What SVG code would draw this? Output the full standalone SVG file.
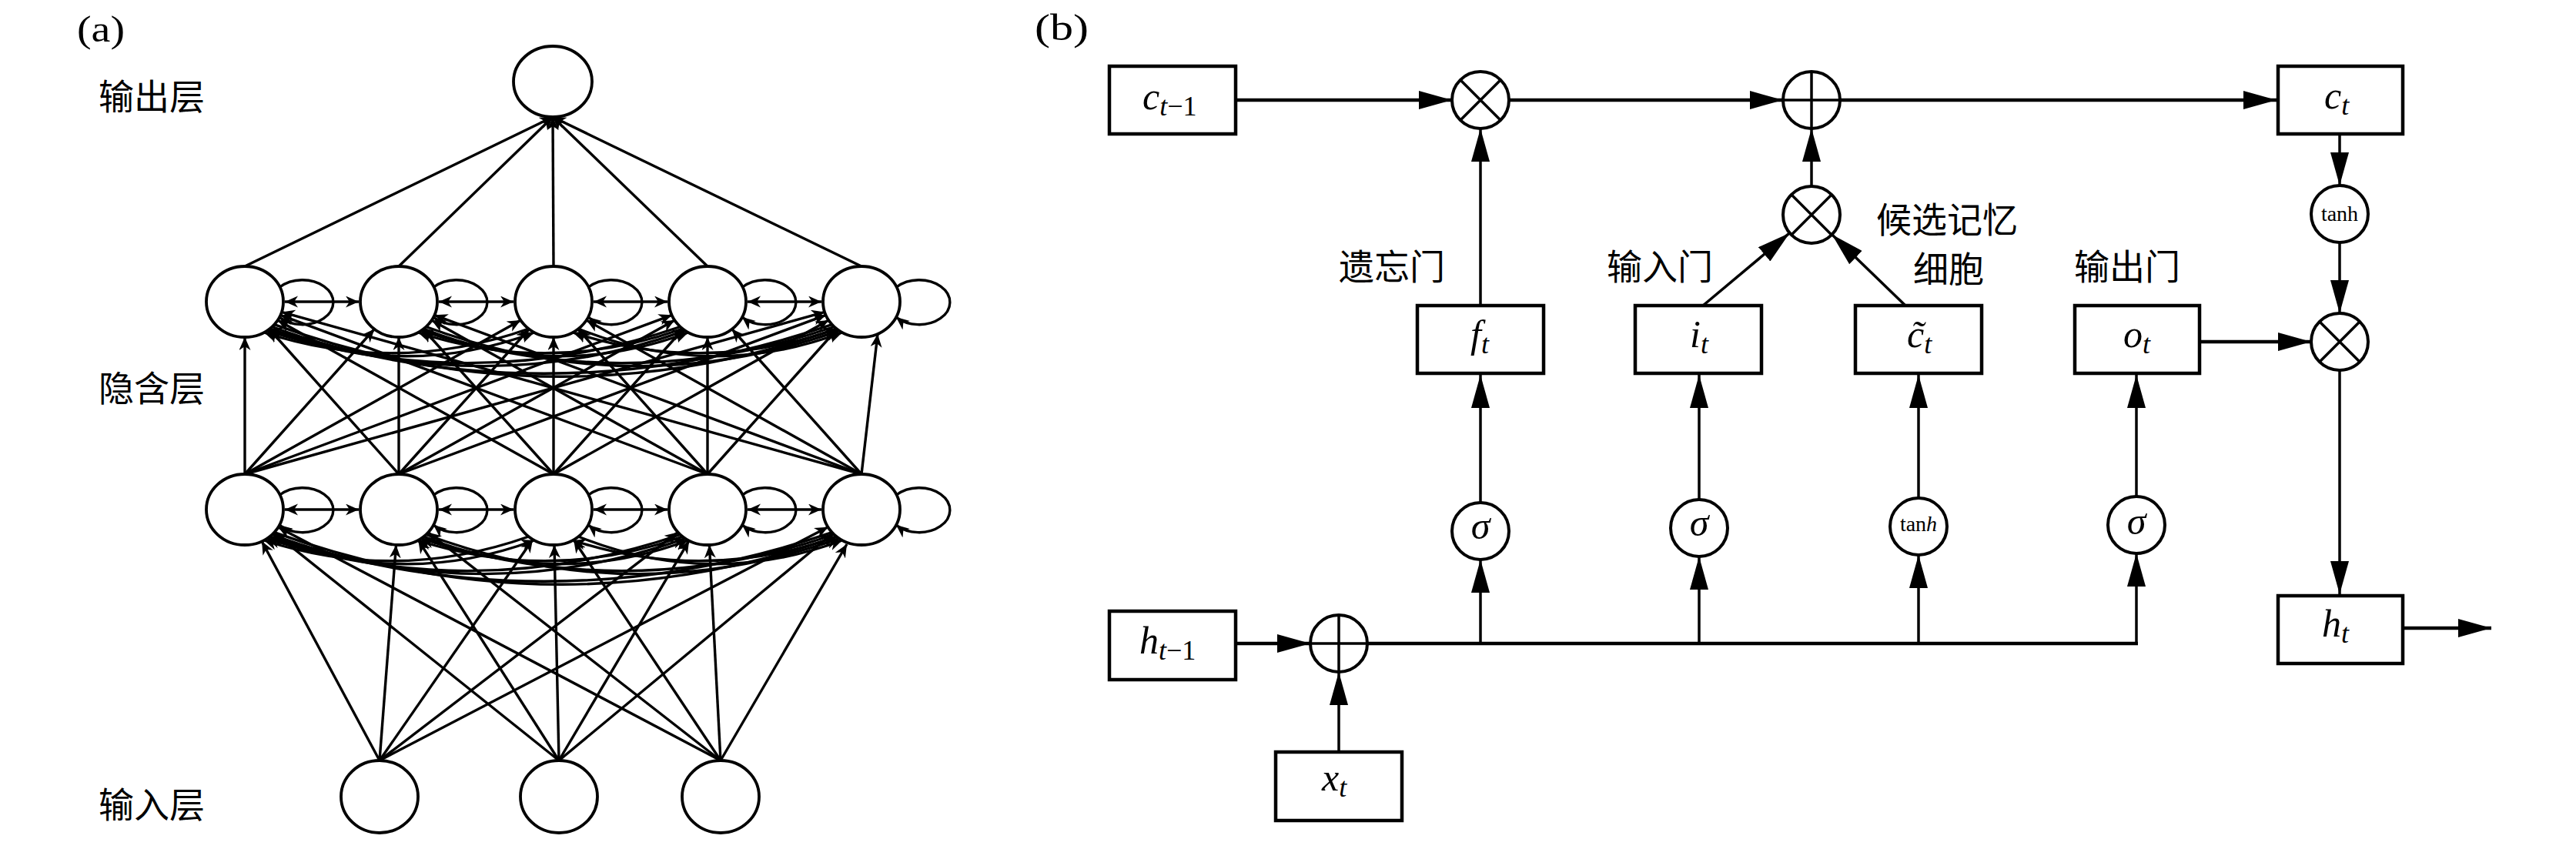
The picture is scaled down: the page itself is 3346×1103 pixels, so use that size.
<svg xmlns="http://www.w3.org/2000/svg" width="3346" height="1103" viewBox="0 0 3346 1103">
<style>
.nd{fill:#fff;stroke:#000;stroke-width:3.8}
.ln{fill:none;stroke:#000;stroke-width:3.4;marker-end:url(#ah)}
.dbl{fill:none;stroke:#000;stroke-width:3.4;marker-start:url(#ah);marker-end:url(#ah)}
.box{fill:#fff;stroke:#000;stroke-width:4.5}
.op{fill:#fff;stroke:#000;stroke-width:4}
.opx{stroke:#000;stroke-width:3.5}
.h{fill:none;stroke:#000;stroke-width:4.5}
.v{fill:none;stroke:#000;stroke-width:3.5}
.arr{marker-end:url(#bh)}
.cjk{font-family:"Noto Sans CJK SC","Noto Sans CJK JP",sans-serif;font-size:46px;fill:#000}
.lab{font-family:"Liberation Serif",serif;font-size:48px;fill:#000}
.m{font-family:"Liberation Serif",serif;font-size:50px;font-style:italic;fill:#000}
.s{font-size:36px}
.r{font-style:normal}
.fn{font-family:"Liberation Serif",serif;font-size:28px;fill:#000}
</style>
<defs>
<marker id="ah" markerUnits="userSpaceOnUse" viewBox="0 0 18 16" markerWidth="18" markerHeight="16" refX="17" refY="7.5" orient="auto-start-reverse"><path d="M0,0 L17,7.5 L0,15 L5,7.5 z" fill="#000"/></marker>
<marker id="bh" markerUnits="userSpaceOnUse" viewBox="0 0 44 24" markerWidth="44" markerHeight="24" refX="43" refY="12" orient="auto"><path d="M0,0 L43,12 L0,24 z" fill="#000"/></marker>
</defs>
<rect width="3346" height="1103" fill="#fff"/>

<!-- ===== Panel (a) ===== -->
<text class="lab" x="100" y="54" textLength="62" lengthAdjust="spacingAndGlyphs">(a)</text>
<text class="cjk" x="128" y="142">输出层</text>
<text class="cjk" x="128" y="521">隐含层</text>
<text class="cjk" x="128" y="1062">输入层</text>

<g id="a-connectors">
<!-- hidden1 -> output -->
<path class="ln" d="M318,346 L718,152"/>
<path class="ln" d="M518,346 L718,152"/>
<path class="ln" d="M719,346 L718,152"/>
<path class="ln" d="M919,346 L718,152"/>
<path class="ln" d="M1119,346 L718,152"/>
<!-- hidden2 -> hidden1 -->
<path class="ln" d="M318,616 L318,438"/>
<path class="ln" d="M518,616 L349.7,427.5"/>
<path class="ln" d="M719,616 L360.7,415.9"/>
<path class="ln" d="M919,616 L364.3,409.3"/>
<path class="ln" d="M1119,616 L365.8,405.4"/>
<path class="ln" d="M318,616 L486.3,427.5"/>
<path class="ln" d="M518,616 L518,438"/>
<path class="ln" d="M719,616 L549.7,427.5"/>
<path class="ln" d="M919,616 L560.7,415.9"/>
<path class="ln" d="M1119,616 L564.3,409.3"/>
<path class="ln" d="M318,616 L676.3,415.9"/>
<path class="ln" d="M518,616 L687.3,427.5"/>
<path class="ln" d="M719,616 L719,438"/>
<path class="ln" d="M919,616 L750.7,427.5"/>
<path class="ln" d="M1119,616 L761.7,415.9"/>
<path class="ln" d="M318,616 L872.7,409.3"/>
<path class="ln" d="M518,616 L876.3,415.9"/>
<path class="ln" d="M719,616 L887.3,427.5"/>
<path class="ln" d="M919,616 L919,438"/>
<path class="ln" d="M1119,616 L950.7,427.5"/>
<path class="ln" d="M318,616 L1071.2,405.4"/>
<path class="ln" d="M518,616 L1072.7,409.3"/>
<path class="ln" d="M719,616 L1076.3,415.9"/>
<path class="ln" d="M919,616 L1087.3,427.5"/>
<path class="ln" d="M1119,616 L1140,434"/>
<!-- input -> hidden2 -->
<path class="ln" d="M493,988 L340.1,703.2"/>
<path class="ln" d="M493,988 L514.5,707.9"/>
<path class="ln" d="M493,988 L692.1,700.8"/>
<path class="ln" d="M493,988 L880.6,691.4"/>
<path class="ln" d="M493,988 L1075.5,684.7"/>
<path class="ln" d="M726,988 L355.7,692.2"/>
<path class="ln" d="M726,988 L543.3,701.7"/>
<path class="ln" d="M726,988 L720,708"/>
<path class="ln" d="M726,988 L895.1,702.4"/>
<path class="ln" d="M726,988 L1081.9,692.8"/>
<path class="ln" d="M936,988 L361.4,684.9"/>
<path class="ln" d="M936,988 L556.1,691.7"/>
<path class="ln" d="M936,988 L745.1,701.2"/>
<path class="ln" d="M936,988 L921.4,708"/>
<path class="ln" d="M936,988 L1100,707"/>
<!-- hidden1 recurrent arcs -->
<path class="ln" d="M350,427 Q522,496 694,432"/>
<path class="ln" d="M687,427 Q515,488 343,432"/>
<path class="ln" d="M550,427 Q722,496 894,432"/>
<path class="ln" d="M887,427 Q715,488 543,432"/>
<path class="ln" d="M751,427 Q922.5,496 1094,432"/>
<path class="ln" d="M1087,427 Q915.5,488 744,432"/>
<path class="ln" d="M353.4,424.5 Q621.9,524 890.3,429.7"/>
<path class="ln" d="M883.6,424.5 Q615.2,516 346.7,429.7"/>
<path class="ln" d="M553.4,424.5 Q821.9,524 1090.3,429.7"/>
<path class="ln" d="M1083.6,424.5 Q815.2,516 546.7,429.7"/>
<path class="ln" d="M356.3,421.6 Q721.6,554 1086.9,427.2"/>
<path class="ln" d="M1080.7,421.6 Q715.4,546 350.1,427.2"/>
<!-- hidden2 recurrent arcs -->
<path class="ln" d="M350,697 Q522,766 694,702"/>
<path class="ln" d="M687,697 Q515,758 343,702"/>
<path class="ln" d="M550,697 Q722,766 894,702"/>
<path class="ln" d="M887,697 Q715,758 543,702"/>
<path class="ln" d="M751,697 Q922.5,766 1094,702"/>
<path class="ln" d="M1087,697 Q915.5,758 744,702"/>
<path class="ln" d="M353.4,694.5 Q621.9,794 890.3,699.7"/>
<path class="ln" d="M883.6,694.5 Q615.2,786 346.7,699.7"/>
<path class="ln" d="M553.4,694.5 Q821.9,794 1090.3,699.7"/>
<path class="ln" d="M1083.6,694.5 Q815.2,786 546.7,699.7"/>
<path class="ln" d="M356.3,691.6 Q721.6,824 1086.9,697.2"/>
<path class="ln" d="M1080.7,691.6 Q715.4,816 350.1,697.2"/>
<!-- self loops -->
<path class="ln" d="M363.5,373 A40,29 0 1 1 363,412"/>
<path class="ln" d="M563.5,373 A40,29 0 1 1 563,412"/>
<path class="ln" d="M764.5,373 A40,29 0 1 1 764,412"/>
<path class="ln" d="M964.5,373 A40,29 0 1 1 964,412"/>
<path class="ln" d="M1164.5,373 A40,29 0 1 1 1164,412"/>
<path class="ln" d="M363.5,643 A40,29 0 1 1 363,682"/>
<path class="ln" d="M563.5,643 A40,29 0 1 1 563,682"/>
<path class="ln" d="M764.5,643 A40,29 0 1 1 764,682"/>
<path class="ln" d="M964.5,643 A40,29 0 1 1 964,682"/>
<path class="ln" d="M1164.5,643 A40,29 0 1 1 1164,682"/>
<!-- lateral double arrows -->
<path class="dbl" d="M370,392 L466,392"/>
<path class="dbl" d="M570,392 L667,392"/>
<path class="dbl" d="M771,392 L867,392"/>
<path class="dbl" d="M971,392 L1067,392"/>
<path class="dbl" d="M370,662 L466,662"/>
<path class="dbl" d="M570,662 L667,662"/>
<path class="dbl" d="M771,662 L867,662"/>
<path class="dbl" d="M971,662 L1067,662"/>
</g>

<g id="a-output"><ellipse class="nd" cx="718" cy="106" rx="51" ry="46"/></g>
<g id="a-h1-1"><ellipse class="nd" cx="318" cy="392" rx="50" ry="46"/></g>
<g id="a-h1-2"><ellipse class="nd" cx="518" cy="392" rx="50" ry="46"/></g>
<g id="a-h1-3"><ellipse class="nd" cx="719" cy="392" rx="50" ry="46"/></g>
<g id="a-h1-4"><ellipse class="nd" cx="919" cy="392" rx="50" ry="46"/></g>
<g id="a-h1-5"><ellipse class="nd" cx="1119" cy="392" rx="50" ry="46"/></g>
<g id="a-h2-1"><ellipse class="nd" cx="318" cy="662" rx="50" ry="46"/></g>
<g id="a-h2-2"><ellipse class="nd" cx="518" cy="662" rx="50" ry="46"/></g>
<g id="a-h2-3"><ellipse class="nd" cx="719" cy="662" rx="50" ry="46"/></g>
<g id="a-h2-4"><ellipse class="nd" cx="919" cy="662" rx="50" ry="46"/></g>
<g id="a-h2-5"><ellipse class="nd" cx="1119" cy="662" rx="50" ry="46"/></g>
<g id="a-in-1"><ellipse class="nd" cx="493" cy="1035" rx="50" ry="47"/></g>
<g id="a-in-2"><ellipse class="nd" cx="726" cy="1035" rx="50" ry="47"/></g>
<g id="a-in-3"><ellipse class="nd" cx="936" cy="1035" rx="50" ry="47"/></g>

<!-- ===== Panel (b) ===== -->
<text class="lab" x="1344" y="52" textLength="70" lengthAdjust="spacingAndGlyphs">(b)</text>

<g id="b-connectors">
<path class="h arr" d="M1605,130 L1886,130"/>
<path class="h arr" d="M1960,130 L2316,130"/>
<path class="h arr" d="M2390,130 L2957,130"/>
<path class="v arr" d="M1923,397 L1923,167"/>
<path class="v arr" d="M2353,242 L2353,167"/>
<path class="v arr" d="M2212,397 L2324.6,302.7"/>
<path class="v arr" d="M2475,397 L2379.6,304.7"/>
<path class="v arr" d="M3039,176 L3039,241"/>
<path class="v arr" d="M3039,315 L3039,407"/>
<path class="h arr" d="M2859,444 L3002,444"/>
<path class="v arr" d="M3039,481 L3039,772"/>
<path class="h arr" d="M3123,816 L3236,816"/>
<path class="h arr" d="M1607,836 L1702,836"/>
<path class="v arr" d="M1739,975 L1739,873"/>
<path class="h" d="M1776,836 L2777,836"/>
<path class="v arr" d="M1923,836 L1923,727"/>
<path class="v arr" d="M2207,836 L2207,723"/>
<path class="v arr" d="M2492,836 L2492,721"/>
<path class="v arr" d="M2775,838 L2775,719"/>
<path class="v arr" d="M1923,653 L1923,487"/>
<path class="v arr" d="M2207,649 L2207,487"/>
<path class="v arr" d="M2492,647 L2492,487"/>
<path class="v arr" d="M2775,645 L2775,487"/>
</g>

<g id="b-ctm1"><rect class="box" x="1441" y="86" width="164" height="88"/>
<text class="m" x="1484" y="142">c<tspan class="s" dy="8">t</tspan><tspan class="s r">−1</tspan></text></g>
<g id="b-ct"><rect class="box" x="2959" y="86" width="162" height="88"/>
<text class="m" x="3019" y="141">c<tspan class="s" dy="8">t</tspan></text></g>
<g id="b-ft"><rect class="box" x="1841" y="397" width="164" height="88"/>
<text class="m" x="1910" y="451">f<tspan class="s" dy="8">t</tspan></text></g>
<g id="b-it"><rect class="box" x="2124" y="397" width="164" height="88"/>
<text class="m" x="2195" y="451">i<tspan class="s" dy="8">t</tspan></text></g>
<g id="b-cct"><rect class="box" x="2410" y="397" width="164" height="88"/>
<text class="m" x="2477" y="451">c&#771;<tspan class="s" dy="8">t</tspan></text></g>
<g id="b-ot"><rect class="box" x="2695" y="397" width="162" height="88"/>
<text class="m" x="2758" y="451">o<tspan class="s" dy="8">t</tspan></text></g>
<g id="b-htm1"><rect class="box" x="1441" y="794" width="164" height="89"/>
<text class="m" x="1480" y="849">h<tspan class="s" dy="8">t</tspan><tspan class="s r">−1</tspan></text></g>
<g id="b-xt"><rect class="box" x="1657" y="977" width="164" height="89"/>
<text class="m" x="1717" y="1027">x<tspan class="s" dy="8">t</tspan></text></g>
<g id="b-ht"><rect class="box" x="2959" y="774" width="162" height="88"/>
<text class="m" x="3016" y="827">h<tspan class="s" dy="8">t</tspan></text></g>

<g id="b-mul1"><circle class="op" cx="1923" cy="130" r="37"/>
<path class="opx" d="M1896.8,103.8 L1949.2,156.2 M1949.2,103.8 L1896.8,156.2"/></g>
<g id="b-add1"><circle class="op" cx="2353" cy="130" r="37"/>
<path class="opx" d="M2316,130 L2390,130 M2353,93 L2353,167"/></g>
<g id="b-mul2"><circle class="op" cx="2353" cy="279" r="37"/>
<path class="opx" d="M2326.8,252.8 L2379.2,305.2 M2379.2,252.8 L2326.8,305.2"/></g>
<g id="b-tanh1"><circle class="op" cx="3039" cy="278" r="37"/>
<text class="fn" x="3039" y="287" text-anchor="middle">tanh</text></g>
<g id="b-mul3"><circle class="op" cx="3039" cy="444" r="37"/>
<path class="opx" d="M3012.8,417.8 L3065.2,470.2 M3065.2,417.8 L3012.8,470.2"/></g>
<g id="b-add2"><circle class="op" cx="1739" cy="836" r="37"/>
<path class="opx" d="M1702,836 L1776,836 M1739,799 L1739,873"/></g>
<g id="b-sig1"><circle class="op" cx="1923" cy="690" r="37"/>
<text class="m" x="1923" y="700" text-anchor="middle" font-size="44">σ</text></g>
<g id="b-sig2"><circle class="op" cx="2207" cy="686" r="37"/>
<text class="m" x="2207" y="696" text-anchor="middle" font-size="44">σ</text></g>
<g id="b-tanh2"><circle class="op" cx="2492" cy="684" r="37"/>
<text class="fn" x="2492" y="690" text-anchor="middle">tan<tspan font-style="italic">h</tspan></text></g>
<g id="b-sig4"><circle class="op" cx="2775" cy="682" r="37"/>
<text class="m" x="2775" y="694" text-anchor="middle" font-size="44">σ</text></g>

<text class="cjk" x="1739" y="363">遗忘门</text>
<text class="cjk" x="2087" y="363">输入门</text>
<text class="cjk" x="2437" y="302" font-size="45">候选记忆</text>
<text class="cjk" x="2485" y="366" font-size="45">细胞</text>
<text class="cjk" x="2694" y="363">输出门</text>
</svg>
